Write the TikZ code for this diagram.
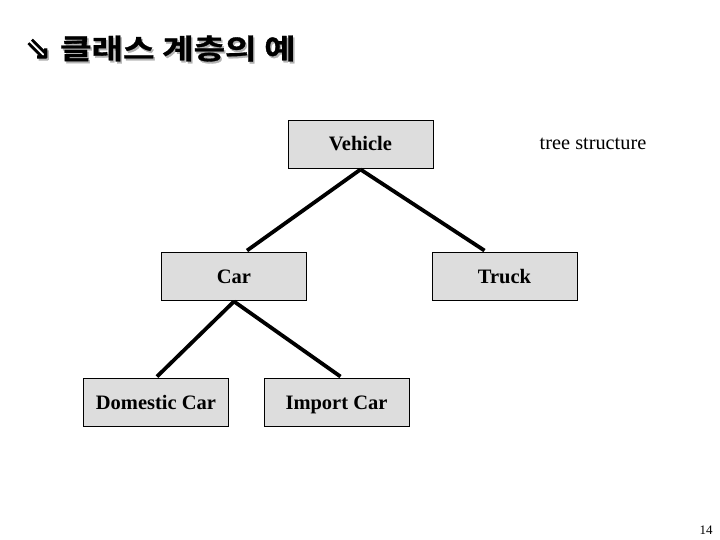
\documentclass[tikz,border=0pt]{standalone}
\usepackage{fontspec}
\setmainfont{Liberation Serif}
\newfontfamily\krfont[FakeStretch=1.22,FakeBold=1.2]{Noto Sans CJK KR Bold}
\newfontfamily\symfont[FakeBold=2.5]{DejaVu Sans}
\definecolor{boxgray}{HTML}{DDDDDD}
\newcommand{\shadowed}[1]{\rlap{\raisebox{-2pt}{\hspace{1.5pt}\textcolor{gray!60}{#1}}}#1}
\begin{document}
\begin{tikzpicture}[x=1pt,y=-1pt,
  cls/.style={draw=black,line width=0.9pt,fill=boxgray,minimum width=145pt,minimum height=48pt,inner sep=0pt,text height=14pt,text depth=0pt,font=\fontsize{20.5}{23}\selectfont\bfseries},
  link/.style={line width=3.8pt,line cap=butt},
  ttl/.style={anchor=base west,inner sep=0pt,font=\krfont\fontsize{28}{32}\selectfont}]
\useasboundingbox (0,0) rectangle (720,540);
% title with gray drop shadow
\node[ttl] (title) at (25,59) {{\symfont\fontsize{31}{34}\selectfont\shadowed{⇘}}\hspace{9pt}\shadowed{클래스 계층의 예}};
% boxes
\node[cls] (vehicle) at (360.5,144) {Vehicle};
\node[cls] (car) at (234,276) {Car};
\node[cls] (truck) at (504.5,276) {Truck};
\node[cls] (domestic) at (156,402) {Domestic Car};
\node[cls] (import) at (336.5,402) {Import Car};
% label
\node[anchor=base,font=\fontsize{20.3}{23}\selectfont,inner sep=0pt] (tree) at (593,150) {tree structure};
\node[anchor=base,font=\fontsize{13}{15}\selectfont,inner sep=0pt] (page) at (706,534) {14};
% connectors
\draw[link] ([yshift=-1pt]vehicle.south) -- ([xshift=13pt,yshift=1pt]car.north);
\draw[link] ([yshift=-1pt]vehicle.south) -- ([xshift=-20pt,yshift=1pt]truck.north);
\draw[link] ([yshift=-1pt]car.south) -- ([xshift=1pt,yshift=1pt]domestic.north);
\draw[link] ([yshift=-1pt]car.south) -- ([xshift=4pt,yshift=1pt]import.north);
\end{tikzpicture}
\end{document}
